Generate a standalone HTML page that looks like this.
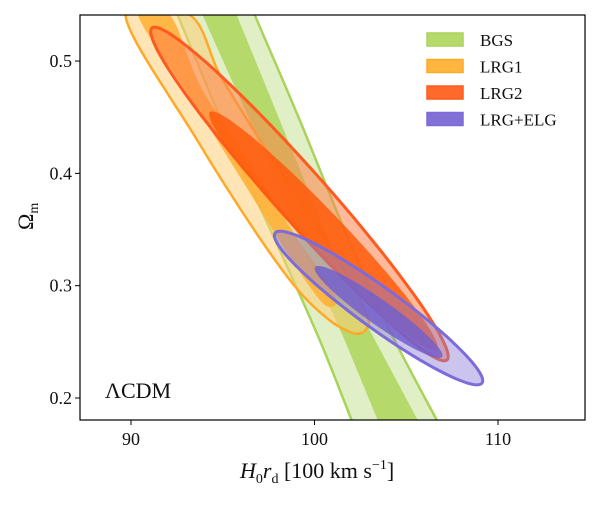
<!DOCTYPE html>
<html><head><meta charset="utf-8"><style>
body{margin:0;background:#fff}
svg text{font-family:"Liberation Serif",serif;fill:#111}
</style></head><body>
<svg id="c" width="600" height="500"></svg>
<script>
// ---- data (H0rd, Omega_m) ----
const xTicks=[90,100,110];
const yTicks=[0.2,0.3,0.4,0.5];
const yTickLabels=["0.2","0.3","0.4","0.5"];
const bgsOuterLeft=[[92.54,0.541],[95.37,0.4297],[98.10,0.3317],[100.28,0.2516],[102.02,0.1804]];
const bgsOuterRight=[[96.74,0.541],[99.19,0.4475],[101.64,0.3495],[104.09,0.2605],[106.66,0.1804]];
const bgsInnerLeft=[[93.90,0.541],[96.46,0.4475],[99.19,0.3406],[101.64,0.2516],[103.44,0.1804]];
const bgsInnerRight=[[95.76,0.541],[98.10,0.4475],[100.55,0.3495],[103.00,0.2605],[105.62,0.1804]];
const lrg1Outer=[[89.70,0.541],[93.60,0.4297],[96.90,0.3451],[99.10,0.2961],[100.80,0.2694],[101.93,0.2588],[102.48,0.2575],[102.86,0.2623],[102.91,0.2712],[102.21,0.2961],[101.12,0.3273],[99.21,0.3763],[97.03,0.4297],[94.85,0.4876],[93.20,0.541]];
const lrg1Inner=[[90.38,0.541],[93.49,0.4609],[96.21,0.3896],[98.94,0.3184],[100.57,0.2828],[101.12,0.2917],[98.94,0.3451],[96.21,0.4164],[93.76,0.4787],[92.12,0.541]];
const lrg2Outer={c:[99.18,0.3816],tip:[91.14,0.5294],hw:0.115};
const lrg2Inner={c:[100.49,0.3487],tip:[94.30,0.4546],hw:0.115};
const elgOuter={c:[103.49,0.2801],tip:[97.85,0.3469],hw:0.16};
const elgInner={c:[103.49,0.2766],tip:[100.03,0.3166],hw:0.16};
const legendLabels=["BGS","LRG1","LRG2","LRG+ELG"];
const legendColors=[["#b5d96a","#a8d45a"],["#ffb63e","#ffa929"],["#ff6a2a","#ff5a1f"],["#8270d6","#7c6bda"]];

const L=80,R=585,T=15,B=420,X0=87.22,X1=114.74,Y0=0.1804,Y1=0.541;
const sx=v=>L+(v-X0)/(X1-X0)*(R-L);
const sy=v=>B-(v-Y0)/(Y1-Y0)*(B-T);
const svg=document.getElementById('c');
const NS='http://www.w3.org/2000/svg';
function mk(tag,attrs,parent){const e=document.createElementNS(NS,tag);for(const k in attrs)e.setAttribute(k,attrs[k]);(parent||svg).appendChild(e);return e;}
const clip=mk('clipPath',{id:'pc'},mk('defs',{}));
mk('rect',{x:L,y:T,width:R-L,height:B-T},clip);
const g=mk('g',{'clip-path':'url(#pc)'});


function smoothPath(P,closed){
  const n=P.length;let d='M'+P[0][0].toFixed(1)+','+P[0][1].toFixed(1);
  const get=i=>closed?P[(i+n)%n]:P[Math.max(0,Math.min(n-1,i))];
  const m=closed?n:n-1;
  for(let i=0;i<m;i++){
    const p0=get(i-1),p1=get(i),p2=get(i+1),p3=get(i+2);
    const c1=[p1[0]+(p2[0]-p0[0])/6,p1[1]+(p2[1]-p0[1])/6];
    const c2=[p2[0]-(p3[0]-p1[0])/6,p2[1]-(p3[1]-p1[1])/6];
    d+='C'+c1[0].toFixed(1)+','+c1[1].toFixed(1)+' '+c2[0].toFixed(1)+','+c2[1].toFixed(1)+' '+p2[0].toFixed(1)+','+p2[1].toFixed(1);
  }
  return d+(closed?'Z':'');
}
const toPx=pts=>pts.map(p=>[sx(p[0]),sy(p[1])]);
function shape(pts,closed,fill,stroke,sw,name){
  const e=mk('path',{d:smoothPath(toPx(pts),closed),fill:fill,stroke:stroke||'none','stroke-width':sw||0,'stroke-linejoin':'round'},g);
  
  
  return e;
}
function band(left,right){return left.concat(right.slice().reverse());}
function ell(E){
  const cx=sx(E.c[0]),cy=sy(E.c[1]),tx=sx(E.tip[0]),ty=sy(E.tip[1]);
  const ax=tx-cx,ay=ty-cy,px=-ay*E.hw,py=ax*E.hw;
  const pts=[];for(let i=0;i<90;i++){const t=i/90*2*Math.PI;pts.push([cx+ax*Math.cos(t)+px*Math.sin(t),cy+ay*Math.cos(t)+py*Math.sin(t)]);}
  return pts;
}
function pellipse(E,fill,stroke,sw,name){
  const d=ell(E).map(p=>p[0].toFixed(1)+','+p[1].toFixed(1)).join(' ');
  const e=mk('polygon',{points:d,fill:fill,stroke:stroke||'none','stroke-width':sw||0},g);
  
  
}
// BGS
const bo=mk('path',{d:smoothPath(toPx(bgsOuterLeft),false)+'L'+toPx(bgsOuterRight.slice().reverse()).map(p=>p.join(',')).join('L')+'Z',fill:'#e0efc6'},g);


const bi=mk('polygon',{points:toPx(band(bgsInnerLeft,bgsInnerRight)).map(p=>p.join(',')).join(' '),fill:'#b5d96a'},g);


shape(bgsOuterLeft,false,'none','#a8d45a',2.5,'bgs-left-edge');
shape(bgsOuterRight,false,'none','#a8d45a',2.5,'bgs-right-edge');
// LRG1
shape(lrg1Outer,true,'rgba(255,205,120,0.55)','#ffa929',2.5,'lrg1-95-contour');
shape(lrg1Inner,true,'rgba(255,175,50,0.85)','none',0,'lrg1-68-contour');
// LRG2
pellipse(lrg2Outer,'rgba(255,130,75,0.55)','#ff5a1f',3,'lrg2-95-contour');
pellipse(lrg2Inner,'rgba(255,90,10,0.85)','none',0,'lrg2-68-contour');
// LRG+ELG
pellipse(elgOuter,'rgba(140,125,215,0.45)','#7c6bda',3,'lrg-elg-95-contour');
pellipse(elgInner,'rgba(115,95,205,0.85)','none',0,'lrg-elg-68-contour');
// frame
const fr=mk('rect',{x:L,y:T,width:R-L,height:B-T,fill:'none',stroke:'#000','stroke-width':1.2});


xTicks.forEach(v=>{
  const x=sx(v);
  const tl=mk('line',{x1:x,x2:x,y1:B,y2:B+5,stroke:'#000'});
  
  
  const t=mk('text',{x:x,y:B+25,'text-anchor':'middle','font-size':18});t.textContent=v;
  
  
});
yTicks.forEach((v,i)=>{
  const y=sy(v);
  const tl=mk('line',{x1:L-5,x2:L,y1:y,y2:y,stroke:'#000'});
  
  
  const t=mk('text',{x:L-8,y:y+6,'text-anchor':'end','font-size':18});t.textContent=yTickLabels[i];
  
  
});
// legend
legendLabels.forEach((lab,i)=>{
  const y=40+i*26.5;
  const r=mk('rect',{x:427,y:y-7,width:36,height:13,fill:legendColors[i][0],stroke:legendColors[i][1],'stroke-width':1.5});
  
  
  const t=mk('text',{x:480,y:y+6,'font-size':17});t.textContent=lab;
  
  
});
</script>
<svg width="600" height="500" style="position:absolute;left:0;top:0">
<text x="105" y="398" font-size="22" style="font-family:'Liberation Serif',serif">ΛCDM</text>
<text x="240" y="478" font-size="22" style="font-family:'Liberation Serif',serif"><tspan font-style="italic">H</tspan><tspan font-size="14" dy="5">0</tspan><tspan font-style="italic" dy="-5">r</tspan><tspan font-size="14" dy="5">d</tspan><tspan dy="-5"> [100 km s</tspan><tspan font-size="14" dy="-9">−1</tspan><tspan dy="9">]</tspan></text>
<text transform="translate(33,230) rotate(-90)" font-size="22" style="font-family:'Liberation Serif',serif">Ω<tspan font-size="14" dy="5">m</tspan></text>
</svg>
</body></html>
